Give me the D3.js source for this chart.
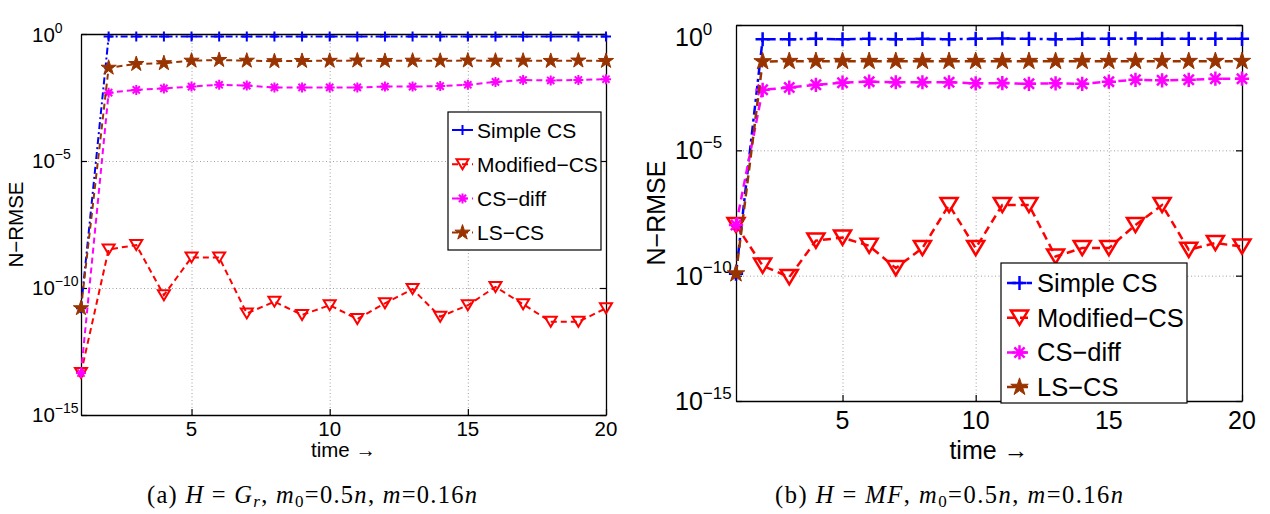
<!DOCTYPE html>
<html>
<head>
<meta charset="utf-8">
<script src="https://cdn.jsdelivr.net/npm/d3@7"></script>
<style>
body { margin: 0; background: #fff; }
text { font-family: "Liberation Sans", Arial, sans-serif; fill: #000; }
text.cap { font-family: "Liberation Serif", "DejaVu Serif", serif; }
</style>
</head>
<body>
<svg id="fig" width="1270" height="514"></svg>
<script>
// shared bits
var times = d3.range(1, 21);
var seriesNames = ["Simple CS", "Modified\u2212CS", "CS\u2212diff", "LS\u2212CS"];
var xTicks = [5, 10, 15, 20];
var yTicks = [1e-15, 1e-10, 1e-5, 1e0];
var yTickExp = ["\u221215", "\u221210", "\u22125", "0"];

// panel (a): H = G_r
var simpleA = [1.6e-11, 0.79, 0.80, 0.80, 0.79, 0.80, 0.80, 0.79, 0.80, 0.80, 0.80, 0.79, 0.80, 0.80, 0.80, 0.79, 0.80, 0.80, 0.79, 0.80];
var modA = [4.5e-14, 3.3e-9, 4.9e-9, 5.2e-11, 1.6e-9, 1.6e-9, 1.0e-11, 2.9e-11, 8.7e-12, 2.1e-11, 6.0e-12, 2.5e-11, 9.1e-11, 7.4e-12, 2.1e-11, 1.1e-10, 2.3e-11, 4.7e-12, 4.7e-12, 1.6e-11];
var csdiffA = [4.5e-14, 0.0049, 0.0063, 0.0072, 0.0085, 0.0100, 0.0093, 0.0079, 0.0079, 0.0079, 0.0079, 0.0085, 0.0085, 0.0089, 0.0100, 0.0130, 0.0155, 0.0148, 0.0155, 0.0166];
var lscsA = [1.6e-11, 0.047, 0.066, 0.071, 0.089, 0.095, 0.089, 0.085, 0.087, 0.088, 0.090, 0.087, 0.089, 0.088, 0.090, 0.089, 0.089, 0.087, 0.090, 0.087];

// panel (b): H = MF
var simpleB = [1.2e-10, 0.27, 0.27, 0.28, 0.27, 0.28, 0.27, 0.28, 0.27, 0.28, 0.29, 0.28, 0.27, 0.28, 0.28, 0.29, 0.28, 0.28, 0.28, 0.28];
var modB = [1.05e-8, 2.5e-10, 8.7e-11, 2.5e-9, 3.3e-9, 1.55e-9, 2.0e-10, 1.26e-9, 6.6e-8, 1.26e-9, 6.6e-8, 6.6e-8, 5.8e-10, 1.26e-9, 1.26e-9, 1.05e-8, 6.6e-8, 1.07e-9, 2.0e-9, 1.45e-9];
var csdiffB = [1.05e-8, 0.0026, 0.0032, 0.0041, 0.0050, 0.0055, 0.0052, 0.0052, 0.0052, 0.0047, 0.0048, 0.0045, 0.0047, 0.0045, 0.0055, 0.0065, 0.0062, 0.0065, 0.0072, 0.0072];
var lscsB = [1.2e-10, 0.035, 0.036, 0.036, 0.036, 0.036, 0.036, 0.036, 0.036, 0.036, 0.036, 0.036, 0.036, 0.036, 0.036, 0.036, 0.036, 0.036, 0.036, 0.036];

var colors = ["#0000ff", "#ff0000", "#ff00ff", "#993300"];
var markers = ["plus", "tri", "aster", "star"];

var svg = d3.select("#fig");

var panels = [
  {
    series: [simpleA, modA, csdiffA, lscsA],
    l: 81, t: 34, r: 606, b: 415,
    fs: 20.5, expFs: 14, legFs: 21,
    k: 1, starSize: 72, lw: 2,
    dash: "6,4", dashDot: "7,3,2,3",
    tenX: 32, minLabY: 35,
    xLabDy: 21, xTitleY: 457,
    yTitleX: 23,
    leg: { x: 448, y: 112, w: 153, h: 138, row0: 130, step: 34.2, lx0: 452, lx1: 473, tx: 477, dy: 7.5 },
    cap: { x: 312, len: 330, parts: [["(a) ", ""], ["H", "i"], [" = ", ""], ["G", "i"], ["r", "sub"], [", ", ""], ["m", "i"], ["0", "sub0"], ["=0.5", ""], ["n", "i"], [", ", ""], ["m", "i"], ["=0.16", ""], ["n", "i"]] }
  },
  {
    series: [simpleB, modB, csdiffB, lscsB],
    l: 736, t: 25, r: 1242, b: 401,
    fs: 25, expFs: 17, legFs: 25.5,
    k: 1.42, starSize: 95, lw: 2.5,
    dash: "8,5", dashDot: "9,4,3,4",
    tenX: 675, minLabY: 37,
    xLabDy: 28, xTitleY: 459,
    yTitleX: 665,
    leg: { x: 1001, y: 263, w: 186, h: 140, row0: 283, step: 34.7, lx0: 1007, lx1: 1032, tx: 1037, dy: 9 },
    cap: { x: 949, len: 348, parts: [["(b) ", ""], ["H", "i"], [" = ", ""], ["MF", "i"], [", ", ""], ["m", "i"], ["0", "sub0"], ["=0.5", ""], ["n", "i"], [", ", ""], ["m", "i"], ["=0.16", ""], ["n", "i"]] }
  }
];

function markerPath(type, p) {
  var k = p.k;
  if (type === "plus") {
    var s = 5 * k;
    return "M" + (-s) + ",0H" + s + "M0," + (-s) + "V" + s;
  }
  if (type === "aster") {
    var s = 5 * k, a = s * 0.72;
    return "M" + (-s) + ",0H" + s + "M0," + (-s) + "V" + s +
      "M" + (-a) + "," + (-a) + "L" + a + "," + a + "M" + (-a) + "," + a + "L" + a + "," + (-a);
  }
  if (type === "tri") {
    var w = 6 * k, h = 5 * k;
    return "M" + (-w) + "," + (-h) + "L" + w + "," + (-h) + "L0," + h + "Z";
  }
  return d3.symbol(d3.symbolStar, p.starSize)();
}

function drawMarker(g, type, x, y, color, p) {
  g.append("path")
    .attr("d", markerPath(type, p))
    .attr("transform", "translate(" + x + "," + y + ")")
    .attr("fill", type === "star" ? color : "none")
    .attr("stroke", color)
    .attr("stroke-width", type === "star" ? 1 : p.lw)
    .attr("stroke-linejoin", "miter");
}

panels.forEach(function(p) {
  var x = d3.scaleLinear().domain([1, 20]).range([p.l, p.r]);
  var y = d3.scaleLog().domain([1e-15, 1]).range([p.b, p.t]);
  var w = p.r - p.l, h = p.b - p.t;
  var g = svg.append("g");

  // grid
  g.append("g")
    .attr("transform", "translate(0," + p.b + ")")
    .call(d3.axisBottom(x).tickValues(xTicks).tickSize(-h).tickFormat(""))
    .call(function(a) {
      a.select(".domain").remove();
      a.selectAll("line").attr("stroke", "#a0a0a0").attr("stroke-dasharray", "1,2.5");
    });
  g.append("g")
    .attr("transform", "translate(" + p.l + ",0)")
    .call(d3.axisLeft(y).tickValues(yTicks).tickSize(-w).tickFormat(""))
    .call(function(a) {
      a.select(".domain").remove();
      a.selectAll("line").attr("stroke", "#a0a0a0").attr("stroke-dasharray", "1,2.5");
    });

  // box axes with inward ticks
  var axes = [
    [d3.axisBottom(x).tickValues(xTicks), "translate(0," + p.b + ")"],
    [d3.axisTop(x).tickValues(xTicks), "translate(0," + p.t + ")"],
    [d3.axisLeft(y).tickValues(yTicks), "translate(" + p.l + ",0)"],
    [d3.axisRight(y).tickValues(yTicks), "translate(" + p.r + ",0)"]
  ];
  axes.forEach(function(ax) {
    g.append("g")
      .attr("transform", ax[1])
      .call(ax[0].tickSizeInner(-6).tickSizeOuter(0).tickFormat(""))
      .call(function(a) {
        a.select(".domain").attr("stroke", "#000").attr("stroke-width", 1.3);
        a.selectAll("line").attr("stroke", "#000").attr("stroke-width", 1.2);
      });
  });

  // x tick labels
  g.selectAll(".xl").data(xTicks).enter().append("text")
    .attr("x", function(d) { return x(d); })
    .attr("y", p.b + p.xLabDy)
    .attr("text-anchor", "middle")
    .attr("font-size", p.fs)
    .text(function(d) { return d; });

  // y tick labels 10^n
  yTicks.forEach(function(v, i) {
    var cy = Math.max(y(v), p.minLabY);
    var t = g.append("text")
      .attr("x", p.tenX)
      .attr("y", cy + p.fs * 0.36)
      .attr("font-size", p.fs);
    t.append("tspan").text("10");
    t.append("tspan").attr("dy", -p.fs * 0.45).attr("font-size", p.expFs).text(yTickExp[i]);
  });

  // axis titles
  g.append("text")
    .attr("x", (p.l + p.r) / 2)
    .attr("y", p.xTitleY)
    .attr("text-anchor", "middle")
    .attr("font-size", p.fs)
    .text("time \u2192");
  g.append("text")
    .attr("transform", "translate(" + p.yTitleX + "," + ((p.t + p.b) / 2) + ") rotate(-90)")
    .attr("text-anchor", "middle")
    .attr("font-size", p.fs)
    .text("N\u2212RMSE");

  // series
  var line = d3.line()
    .x(function(d, i) { return x(times[i]); })
    .y(function(d) { return y(d); });

  p.series.forEach(function(vals, si) {
    g.append("path")
      .datum(vals)
      .attr("d", line)
      .attr("fill", "none")
      .attr("stroke", colors[si])
      .attr("stroke-width", p.lw)
      .attr("stroke-dasharray", si === 0 ? p.dashDot : p.dash);
    var mg = g.append("g");
    vals.forEach(function(v, i) {
      drawMarker(mg, markers[si], x(times[i]), y(v), colors[si], p);
    });
  });

  // legend
  var L = p.leg;
  g.append("rect")
    .attr("x", L.x).attr("y", L.y).attr("width", L.w).attr("height", L.h)
    .attr("fill", "#fff").attr("stroke", "#000").attr("stroke-width", 1.2);
  seriesNames.forEach(function(name, si) {
    var ry = L.row0 + si * L.step;
    g.append("line")
      .attr("x1", L.lx0).attr("x2", L.lx1).attr("y1", ry).attr("y2", ry)
      .attr("stroke", colors[si]).attr("stroke-width", p.lw)
      .attr("stroke-dasharray", si === 0 ? p.dashDot : p.dash);
    drawMarker(g, markers[si], (L.lx0 + L.lx1) / 2, ry, colors[si], p);
    g.append("text")
      .attr("x", L.tx).attr("y", ry + L.dy)
      .attr("font-size", p.legFs)
      .text(name);
  });

  // caption
  var cap = svg.append("text")
    .attr("class", "cap")
    .attr("x", p.cap.x).attr("y", 503)
    .attr("text-anchor", "middle")
    .attr("font-size", 24.5)
    .attr("textLength", p.cap.len)
    .attr("lengthAdjust", "spacing");
  p.cap.parts.forEach(function(pt, i) {
    var ts = cap.append("tspan").text(pt[0]);
    if (pt[1] === "i") ts.attr("font-style", "italic");
    if (pt[1] === "sub") ts.attr("font-style", "italic").attr("font-size", 17).attr("dy", 4);
    if (pt[1] === "sub0") ts.attr("font-size", 17).attr("dy", 4);
    // undo the subscript shift on the part after it
    if (i > 0) {
      var prev = p.cap.parts[i - 1][1];
      if (prev === "sub" || prev === "sub0") ts.attr("dy", -4);
    }
  });
});
</script>
</body>
</html>
